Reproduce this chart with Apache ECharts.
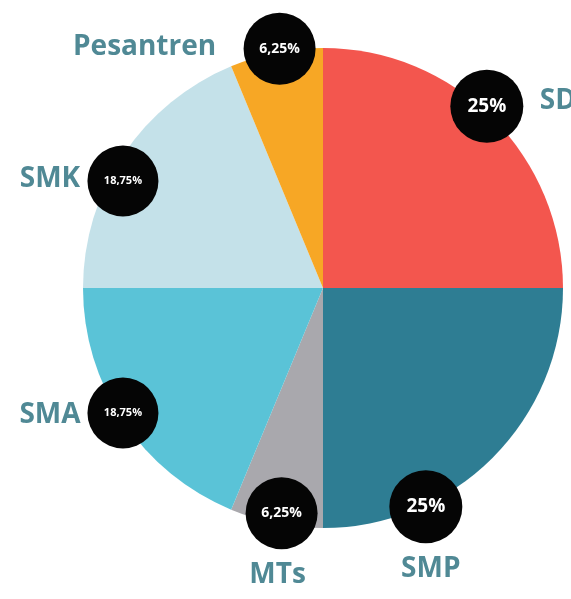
<!DOCTYPE html>
<html>
<head>
<meta charset="utf-8">
<script src="https://cdn.jsdelivr.net/npm/echarts@6/dist/echarts.min.js"></script>
<style>
html,body{margin:0;padding:0;background:#fff;}
#chart{width:571px;height:599px;}
</style>
</head>
<body>
<div id="chart"></div>
<script>
// Data
const categories = ['SD', 'SMP', 'MTs', 'SMA', 'SMK', 'Pesantren'];
const values = [25, 25, 6.25, 18.75, 18.75, 6.25];

// Styling (kept apart from data)
const colors = ['#F3564E', '#2E7D93', '#A9A8AD', '#5AC3D7', '#C4E1E9', '#F7A725'];
const circleOffsets = [[-8, -10], [-69, 47], [6, -13], [2, -10], [2, 28], [4, -1]];
const nameOffsets = [[63, -15], [-64, 109], [2, 49], [-71, -8], [-71, 26], [-131, -3]];
const center = [323, 288];
const R = 240;

function pctText(v) { return String(v).replace('.', ',') + '%'; }
function pctStyle(v) {
  const s = pctText(v);
  return s.length <= 3 ? 'big' : (s.length === 5 ? 'mid' : 'small');
}

const circleRich = {
  big:   {width: 73, height: 73, lineHeight: 73, borderRadius: 36.5, backgroundColor: '#050505', color: '#fff', fontSize: 19, fontWeight: 'bold', align: 'center', fontFamily: 'Open Sans'},
  mid:   {width: 72, height: 72, lineHeight: 72, borderRadius: 36, backgroundColor: '#050505', color: '#fff', fontSize: 14, fontWeight: 'bold', align: 'center', fontFamily: 'Open Sans'},
  small: {width: 71, height: 71, lineHeight: 71, borderRadius: 35.5, backgroundColor: '#050505', color: '#fff', fontSize: 11, fontWeight: 'bold', align: 'center', fontFamily: 'Open Sans'}
};

const mainData = categories.map((c, i) => ({name: c, value: values[i], itemStyle: {color: colors[i]}}));
const circleData = categories.map((c, i) => ({
  name: c, value: values[i],
  label: {offset: circleOffsets[i]}
}));
const nameData = categories.map((c, i) => ({
  name: c, value: values[i],
  label: {offset: nameOffsets[i]}
}));

const chart = echarts.init(document.getElementById('chart'), null, {renderer: 'canvas'});
chart.setOption({
  backgroundColor: '#ffffff',
  animation: false,
  series: [
    {
      type: 'pie', center: center, radius: [0, R], startAngle: 90, clockwise: true,
      label: {show: false}, labelLine: {show: false}, silent: true,
      data: mainData
    },
    {
      type: 'pie', center: center, radius: [R - 10, R + 10], startAngle: 90, clockwise: true,
      itemStyle: {color: 'rgba(0,0,0,0)'}, silent: true, z: 3,
      label: {
        show: true, position: 'inside',
        formatter: p => '{' + pctStyle(p.value) + '|' + pctText(p.value) + '}',
        rich: circleRich
      },
      labelLine: {show: false},
      data: circleData
    },
    {
      type: 'pie', center: center, radius: [R - 10, R + 10], startAngle: 90, clockwise: true,
      itemStyle: {color: 'rgba(0,0,0,0)'}, silent: true, z: 3,
      label: {
        show: true, position: 'inside', formatter: '{b}',
        color: '#50899596'.slice(0, 7), fontSize: 28, fontWeight: 'bold', fontFamily: 'Open Sans'
      },
      labelLine: {show: false},
      data: nameData
    }
  ]
});
</script>
</body>
</html>
